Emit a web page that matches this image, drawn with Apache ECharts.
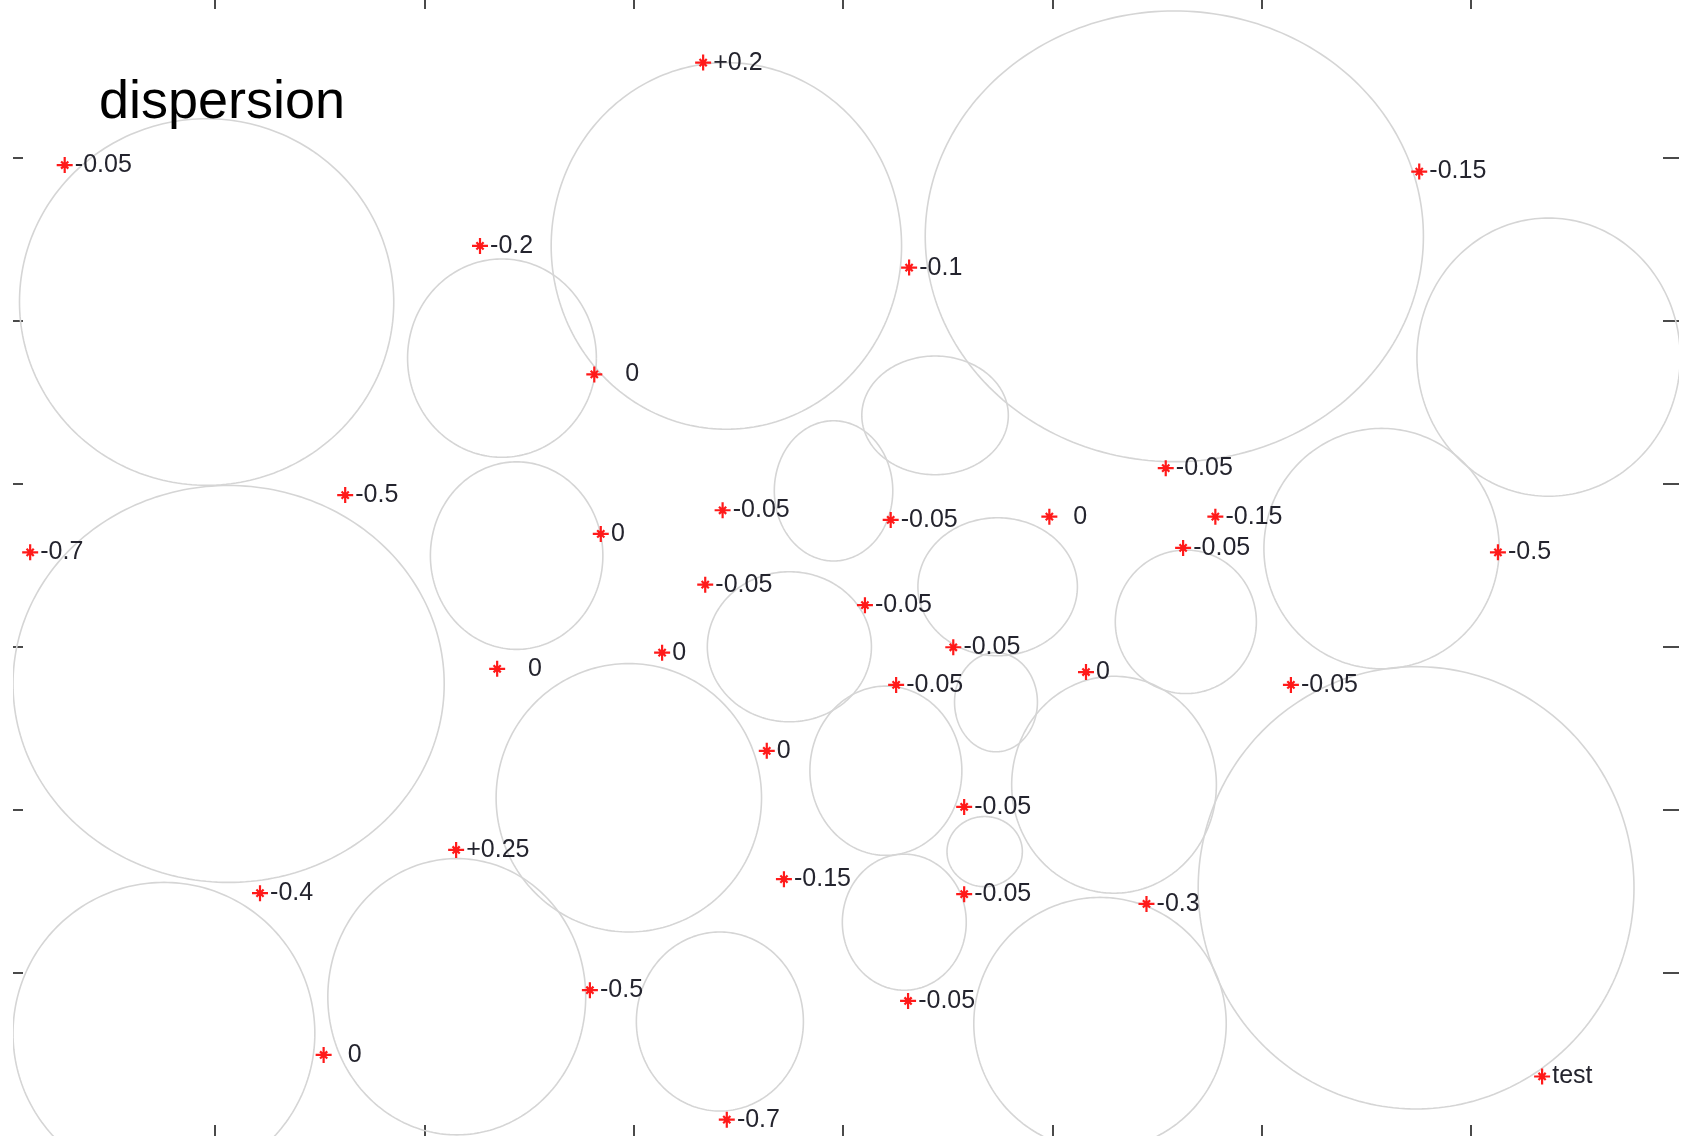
<!DOCTYPE html>
<html>
<head>
<meta charset="utf-8">
<title>dispersion</title>
<script src="https://cdn.jsdelivr.net/npm/echarts@6/dist/echarts.min.js"></script>
<style>
  html, body { margin: 0; padding: 0; background: #ffffff; }
  #main { width: 1691px; height: 1139px; }
</style>
</head>
<body>
<div id="main"></div>
<script>
// Axis limits and tick positions (data units)
const xLimits = [0.035, 7.994];
const yLimits = [0, 6.966];
const xTicks = [1, 2, 3, 4, 5, 6, 7];
const yTicks = [1, 2, 3, 4, 5, 6];

// Circles: centre and radii along each axis
const circleX  = [0.960, 2.371, 3.443, 5.583, 7.371, 4.440, 3.955, 2.441, 1.065, 4.739, 5.638, 6.573,
                  3.744, 4.731, 2.977, 4.205, 5.295, 4.677, 6.738, 0.756, 2.155, 3.412, 4.293, 5.228];
const circleY  = [5.114, 4.770, 5.458, 5.517, 4.776, 4.419, 3.956, 3.559, 2.772, 3.368, 3.153, 3.602,
                  3.000, 2.660, 2.074, 2.240, 2.154, 1.744, 1.522, 0.629, 0.854, 0.702, 1.311, 0.689];
const circleRX = [0.894, 0.451, 0.837, 1.190, 0.629, 0.350, 0.283, 0.412, 1.030, 0.381, 0.337, 0.562,
                  0.392, 0.198, 0.634, 0.363, 0.489, 0.180, 1.041, 0.721, 0.616, 0.399, 0.296, 0.603];
const circleRY = [1.124, 0.608, 1.124, 1.382, 0.853, 0.364, 0.430, 0.575, 1.217, 0.423, 0.440, 0.737,
                  0.460, 0.304, 0.823, 0.519, 0.665, 0.215, 1.356, 0.926, 0.847, 0.549, 0.417, 0.774];

// Marked points and their text
const pointX = [0.282, 3.332, 6.753, 2.266, 4.316, 2.812, 5.542, 1.622, 3.425, 4.228, 4.986, 5.779,
                0.117, 2.843, 5.625, 7.129, 3.342, 4.105, 4.527, 2.348, 3.136, 4.254, 5.161, 6.140,
                3.636, 4.579, 2.152, 1.215, 3.718, 4.579, 5.450, 2.791, 4.311, 1.519, 7.340, 3.445];
const pointY = [5.954, 6.582, 5.914, 5.458, 5.325, 4.670, 4.095, 3.930, 3.837, 3.778, 3.798, 3.798,
                3.579, 3.692, 3.606, 3.579, 3.381, 3.255, 2.997, 2.865, 2.964, 2.766, 2.845, 2.766,
                2.362, 2.018, 1.754, 1.489, 1.575, 1.483, 1.423, 0.894, 0.828, 0.497, 0.365, 0.100];
const pointLabels = ['-0.05', '+0.2', '-0.15', '-0.2', '-0.1', '   0', '-0.05', '-0.5', '-0.05', '-0.05', '  0', '-0.15',
                     '-0.7', '0', '-0.05', '-0.5', '-0.05', '-0.05', '-0.05', '   0', '0', '-0.05', '0', '-0.05',
                     '0', '-0.05', '+0.25', '-0.4', '-0.15', '-0.05', '-0.3', '-0.5', '-0.05', '  0', 'test', '-0.7'];

const chart = echarts.init(document.getElementById('main'), null, { renderer: 'canvas' });

const circleData = circleX.map((x, i) => [x, circleY[i], circleRX[i], circleRY[i]]);
const pointData = pointX.map((x, i) => ({ value: [x, pointY[i]], name: pointLabels[i] }));

const tickColor = '#4a4a4a';

function xAxisDef(position, len) {
  return {
    type: 'value', position: position, min: xLimits[0], max: xLimits[1],
    axisLine: { show: false, onZero: false },
    axisTick: { show: true, inside: true, length: len, customValues: xTicks,
                lineStyle: { color: tickColor, width: 2 } },
    axisLabel: { show: false },
    splitLine: { show: false }
  };
}
function yAxisDef(position, len) {
  return {
    type: 'value', position: position, min: yLimits[0], max: yLimits[1],
    axisLine: { show: false, onZero: false },
    axisTick: { show: true, inside: true, length: len, customValues: yTicks,
                lineStyle: { color: tickColor, width: 2 } },
    axisLabel: { show: false },
    splitLine: { show: false }
  };
}

// asterisk marker: a plus with shorter diagonals
const asterisk = 'path://M0,-10L0,10M-10,0L10,0M-4.5,-4.5L4.5,4.5M-4.5,4.5L4.5,-4.5';

const option = {
  animation: false,
  backgroundColor: '#ffffff',
  grid: { left: 13, right: 12, top: 0, bottom: 3 },
  xAxis: [xAxisDef('bottom', 11), xAxisDef('top', 9)],
  yAxis: [yAxisDef('left', 10), yAxisDef('right', 16)],
  graphic: [{
    type: 'text', left: 99, top: 76, z: 10,
    style: { text: 'dispersion', font: '54px "Liberation Sans", Arial, sans-serif', fill: '#000000' }
  }],
  series: [
    {
      type: 'custom',
      xAxisIndex: 0, yAxisIndex: 0,
      data: circleData,
      encode: { x: 0, y: 1 },
      z: 1,
      renderItem: function (params, api) {
        const cx = api.value(0), cy = api.value(1), rx = api.value(2), ry = api.value(3);
        const pts = [];
        const n = 240;
        for (let k = 0; k <= n; k++) {
          const t = (k / n) * Math.PI * 2;
          pts.push(api.coord([cx + rx * Math.cos(t), cy + ry * Math.sin(t)]));
        }
        const cs = params.coordSys;
        return {
          type: 'polyline',
          shape: { points: pts },
          style: { fill: null, stroke: '#d5d5d5', lineWidth: 1.6 },
          clipPath: { type: 'rect', shape: { x: cs.x, y: cs.y, width: cs.width, height: cs.height } }
        };
      }
    },
    {
      type: 'scatter',
      xAxisIndex: 0, yAxisIndex: 0,
      data: pointData,
      z: 5,
      symbol: asterisk,
      symbolSize: 16,
      itemStyle: { color: 'rgba(0,0,0,0)', borderColor: '#ff1a1a', borderWidth: 2.2, opacity: 1 },
      label: {
        show: true, position: 'right', distance: 1,
        formatter: '{b}',
        fontSize: 25, fontFamily: '"Liberation Sans", Arial, sans-serif',
        color: '#24242e'
      },
      emphasis: { disabled: true }
    }
  ]
};

chart.setOption(option);
</script>
</body>
</html>
